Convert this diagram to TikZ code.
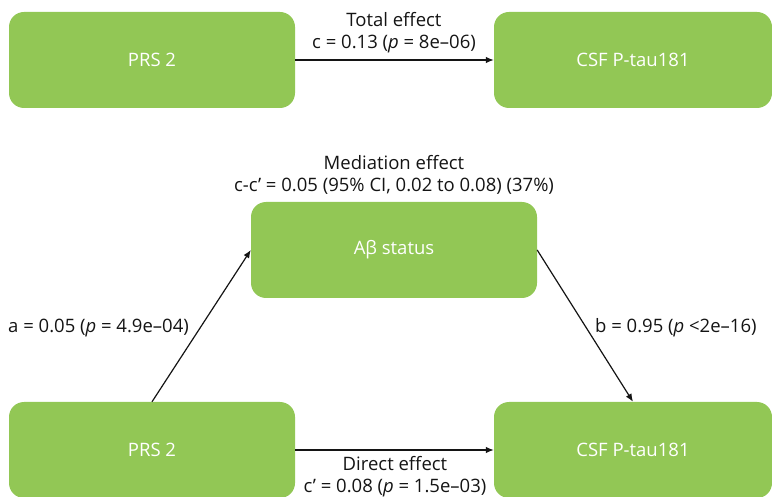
\documentclass[tikz,border=0pt]{standalone}
\usepackage{fontspec}
\setmainfont{Open Sans}
\usetikzlibrary{arrows.meta,positioning,calc}
\definecolor{leaf}{HTML}{92C755}
\definecolor{ink}{HTML}{141414}
\tikzset{
  box/.style={fill=leaf,rounded corners=15pt,minimum width=286pt,
    minimum height=96pt,text=white,font=\fontsize{18.5}{22}\selectfont,inner sep=0pt},
  lbl/.style={align=center,font=\fontsize{18.5}{22}\selectfont,text=ink,inner sep=0pt},
  arr/.style={-{Latex[length=8pt,width=6.5pt]},line width=1.2pt,draw=ink}
}
\begin{document}
\begin{tikzpicture}[x=1pt,y=-1pt]
    \useasboundingbox (0,0) rectangle (772,497);
    % total effect
    \node[box] (prsT) at (152,60) {PRS 2};
    \node[box,minimum width=278pt] (csfT) at (633,60) {CSF P-tau181};
    \draw[arr] (prsT) -- (csfT);
    \node[lbl] (totLbl) at (394,33) {Total effect\\c = 0.13 (\textit{p} = 8e–06)};
    % mediation model
    \node[box] (abeta) at (394,250) {Aβ status};
    \node[box] (prsB) at (152,450) {PRS 2};
    \node[box,minimum width=278pt] (csfB) at (633,450) {CSF P-tau181};
    \draw[arr] (prsB.north) -- (abeta.west);
    \draw[arr] (abeta.east) -- (csfB.north);
    \draw[arr] (prsB) -- (csfB);
    \node[lbl] (medLbl) at (394,175)
      {Mediation effect\\c-c’ = 0.05 (95\% CI, 0.02 to 0.08) (37\%)};
    \node[lbl,anchor=west] (aLbl) at (8,328) {a = 0.05 (\textit{p} = 4.9e–04)};
    \node[lbl,anchor=west] (bLbl) at (595,328) {b = 0.95 (\textit{p} <2e–16)};
    \node[lbl] (dirLbl) at (395,477) {Direct effect\\c’ = 0.08 (\textit{p} = 1.5e–03)};
\end{tikzpicture}
\end{document}
